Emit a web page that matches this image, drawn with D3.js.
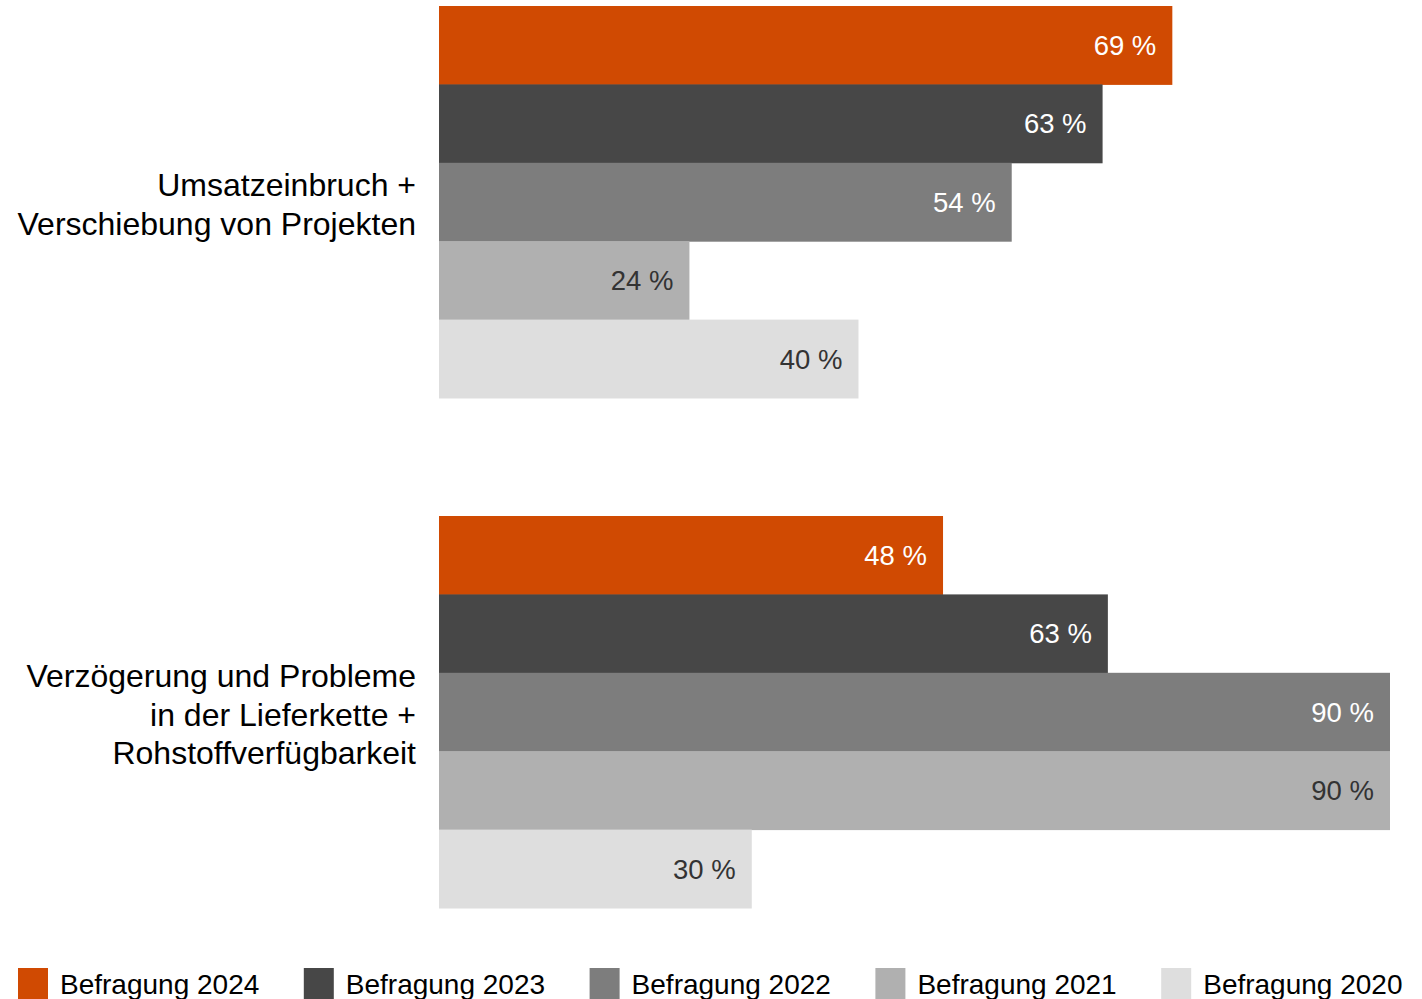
<!DOCTYPE html>
<html>
<head>
<meta charset="utf-8">
<script src="https://cdn.jsdelivr.net/npm/d3@7"></script>
<style>
  body { margin: 0; background: #fff; }
  svg { display: block; font-family: "Liberation Sans", Arial, sans-serif; }
</style>
</head>
<body>
<svg width="1422" height="999"></svg>
<script>
const categories = [
  ["Umsatzeinbruch +", "Verschiebung von Projekten"],
  ["Verzögerung und Probleme", "in der Lieferkette +", "Rohstoffverfügbarkeit"]
];
const surveys = ["Befragung 2024", "Befragung 2023", "Befragung 2022", "Befragung 2021", "Befragung 2020"];
// values (labels are rounded)
const values2024 = [69.4, 47.7];
const values2023 = [62.8, 63.3];
const values2022 = [54.2, 90];
const values2021 = [23.7, 90];
const values2020 = [39.7, 29.6];

const colors = ["#d04a02", "#474747", "#7d7d7d", "#b0b0b0", "#dedede"];
const labelColors = ["#fff", "#fff", "#fff", "#333", "#333"];

const series = [values2024, values2023, values2022, values2021, values2020];

let svg = d3.select("svg");

const chart = { left: 439, right: 1390, top: 6, bottom: 908 };

const xScale = d3.scaleLinear()
                 .domain([0, 90])
                 .range([chart.left, chart.right]);

const yScale = d3.scaleBand()
                 .domain(d3.range(categories.length))
                 .range([chart.top, chart.bottom])
                 .paddingInner(0.2314)
                 .paddingOuter(0);

const ySub = d3.scaleBand()
               .domain(surveys)
               .range([0, yScale.bandwidth()]);

const groups = svg.selectAll("g.group")
  .data(categories)
  .enter()
  .append("g")
  .classed("group", true)
  .attr("transform", (d, i) => "translate(0," + yScale(i) + ")");

// bars
groups.each(function(cat, ci) {
  const g = d3.select(this);
  surveys.forEach((s, si) => {
    const v = series[si][ci];
    g.append("rect")
     .attr("x", xScale(0))
     .attr("y", ySub(s))
     .attr("width", xScale(v) - xScale(0))
     .attr("height", ySub.bandwidth() + 0.5)
     .attr("fill", colors[si]);
    g.append("text")
     .attr("x", xScale(v) - 16)
     .attr("y", ySub(s) + ySub.bandwidth() / 2)
     .attr("dy", "0.36em")
     .attr("text-anchor", "end")
     .attr("font-size", 27.5)
     .attr("fill", labelColors[si])
     .text(Math.round(v) + " %");
  });

  // category label
  const lineH = 38.5;
  const mid = yScale.bandwidth() / 2 + 2;
  const t = g.append("text")
    .attr("text-anchor", "end")
    .attr("font-size", 32)
    .attr("fill", "#000");
  cat.forEach((line, li) => {
    t.append("tspan")
     .attr("x", 416)
     .attr("y", mid + (li - (cat.length - 1) / 2) * lineH)
     .attr("dy", "0.36em")
     .text(line);
  });
});

// legend
const legend = svg.append("g").attr("transform", "translate(18,968)");
surveys.forEach((s, i) => {
  const item = legend.append("g").attr("transform", "translate(" + (i * 285.8) + ",0)");
  item.append("rect")
      .attr("width", 30)
      .attr("height", 32)
      .attr("fill", colors[i]);
  item.append("text")
      .attr("x", 42)
      .attr("y", 26)
      .attr("font-size", 28)
      .attr("fill", "#000")
      .text(s);
});
</script>
</body>
</html>
